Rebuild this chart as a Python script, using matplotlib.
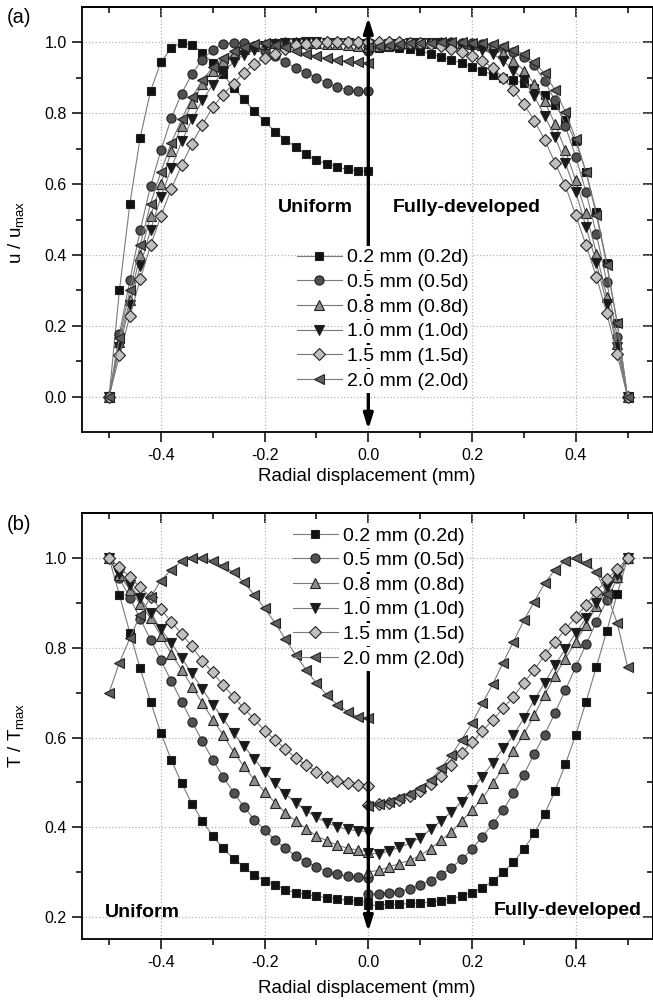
import matplotlib
matplotlib.use("Agg")
import matplotlib.pyplot as plt
from matplotlib.ticker import FixedLocator, NullFormatter

plt.rcParams['font.family'] = ['Liberation Sans', 'DejaVu Sans']
plt.rcParams['mathtext.fontset'] = 'custom'
plt.rcParams['mathtext.rm'] = 'Liberation Sans'
plt.rcParams['mathtext.it'] = 'Liberation Sans:italic'
plt.rcParams['axes.unicode_minus'] = False

# Radial positions (mm): uniform inlet half and fully-developed half
X_LEFT = [-0.50, -0.48, -0.46, -0.44, -0.42, -0.40, -0.38, -0.36, -0.34, -0.32,
          -0.30, -0.28, -0.26, -0.24, -0.22, -0.20, -0.18, -0.16, -0.14, -0.12,
          -0.10, -0.08, -0.06, -0.04, -0.02, 0.00]
X_RIGHT = [0.00, 0.02, 0.04, 0.06, 0.08, 0.10, 0.12, 0.14, 0.16, 0.18,
           0.20, 0.22, 0.24, 0.26, 0.28, 0.30, 0.32, 0.34, 0.36, 0.38,
           0.40, 0.42, 0.44, 0.46, 0.48, 0.50]

LABELS = ['0.2 mm (0.2d)', '0.5 mm (0.5d)', '0.8 mm (0.8d)',
          '1.0 mm (1.0d)', '1.5 mm (1.5d)', '2.0 mm (2.0d)']

# (a) normalised velocity u / u_max
U_L_02 = [0.0, 0.300, 0.543, 0.731, 0.862, 0.944, 0.983, 0.999, 0.993, 0.970, 0.941, 0.909, 0.872,
          0.839, 0.806, 0.777, 0.748, 0.725, 0.704, 0.684, 0.667, 0.657, 0.648, 0.641, 0.637, 0.636]
U_L_05 = [0.0, 0.177, 0.329, 0.469, 0.594, 0.695, 0.786, 0.855, 0.911, 0.951, 0.979, 0.995, 0.998,
          0.997, 0.988, 0.975, 0.960, 0.944, 0.927, 0.913, 0.900, 0.886, 0.873, 0.866, 0.862, 0.861]
U_L_08 = [0.0, 0.155, 0.272, 0.401, 0.509, 0.600, 0.692, 0.765, 0.829, 0.882, 0.920, 0.948, 0.967,
          0.981, 0.990, 0.996, 0.999, 1.000, 1.000, 0.999, 0.998, 0.996, 0.994, 0.992, 0.990, 0.988]
U_L_10 = [0.0, 0.141, 0.258, 0.368, 0.471, 0.563, 0.645, 0.720, 0.782, 0.836, 0.880, 0.916, 0.944,
          0.964, 0.978, 0.988, 0.994, 0.998, 0.999, 1.000, 1.000, 0.999, 0.998, 0.997, 0.996, 0.995]
U_L_15 = [0.0, 0.117, 0.227, 0.331, 0.427, 0.509, 0.587, 0.653, 0.714, 0.767, 0.817, 0.852, 0.883,
          0.914, 0.939, 0.955, 0.968, 0.981, 0.991, 0.996, 0.999, 1.000, 1.000, 1.000, 1.000, 1.000]
U_L_20 = [0.0, 0.165, 0.300, 0.427, 0.545, 0.634, 0.717, 0.782, 0.845, 0.892, 0.930, 0.956, 0.974,
          0.986, 0.995, 0.998, 0.993, 0.985, 0.976, 0.968, 0.961, 0.955, 0.950, 0.946, 0.943, 0.940]

U_R_02 = [0.982, 0.984, 0.985, 0.984, 0.981, 0.976, 0.967, 0.958, 0.950, 0.941, 0.930, 0.920, 0.908,
          0.900, 0.892, 0.885, 0.872, 0.852, 0.823, 0.780, 0.720, 0.634, 0.520, 0.377, 0.208, 0.0]
U_R_05 = [0.975, 0.985, 0.990, 0.993, 0.995, 0.997, 0.998, 0.999, 1.000, 0.999, 0.997, 0.994, 0.989,
          0.983, 0.973, 0.958, 0.935, 0.890, 0.836, 0.763, 0.677, 0.577, 0.458, 0.324, 0.169, 0.0]
U_R_08 = [0.985, 0.990, 0.993, 0.995, 0.997, 0.998, 0.999, 1.000, 0.999, 0.998, 0.996, 0.992, 0.985,
          0.970, 0.948, 0.920, 0.883, 0.833, 0.770, 0.695, 0.610, 0.517, 0.404, 0.282, 0.150, 0.0]
U_R_10 = [0.990, 0.992, 0.994, 0.996, 0.997, 0.998, 0.998, 0.997, 0.995, 0.990, 0.985, 0.978, 0.967,
          0.948, 0.920, 0.893, 0.848, 0.792, 0.733, 0.659, 0.578, 0.479, 0.376, 0.263, 0.141, 0.0]
U_R_15 = [1.000, 1.000, 1.000, 1.000, 0.999, 0.997, 0.994, 0.989, 0.981, 0.972, 0.961, 0.947, 0.928,
          0.899, 0.864, 0.825, 0.779, 0.725, 0.660, 0.596, 0.512, 0.427, 0.338, 0.235, 0.120, 0.0]
U_R_20 = [0.985, 0.990, 0.993, 0.995, 0.997, 0.998, 0.999, 1.000, 1.000, 1.000, 0.999, 0.998, 0.995,
          0.990, 0.979, 0.966, 0.943, 0.912, 0.865, 0.804, 0.727, 0.633, 0.512, 0.371, 0.208, 0.0]

# (b) normalised temperature T / T_max
T_L_02 = [1.000, 0.918, 0.834, 0.754, 0.680, 0.610, 0.550, 0.498, 0.452, 0.414, 0.380, 0.353, 0.330,
          0.312, 0.293, 0.281, 0.271, 0.261, 0.254, 0.250, 0.246, 0.243, 0.240, 0.237, 0.235, 0.233]
T_L_05 = [1.000, 0.955, 0.912, 0.865, 0.818, 0.772, 0.726, 0.680, 0.635, 0.592, 0.550, 0.513, 0.477,
          0.446, 0.417, 0.394, 0.371, 0.353, 0.336, 0.323, 0.312, 0.301, 0.295, 0.291, 0.289, 0.287]
T_L_08 = [1.000, 0.962, 0.930, 0.898, 0.866, 0.827, 0.787, 0.751, 0.713, 0.677, 0.640, 0.606, 0.568,
          0.536, 0.506, 0.479, 0.455, 0.432, 0.414, 0.397, 0.380, 0.370, 0.360, 0.353, 0.349, 0.345]
T_L_10 = [1.000, 0.965, 0.940, 0.911, 0.877, 0.842, 0.810, 0.777, 0.743, 0.708, 0.673, 0.643, 0.609,
          0.581, 0.552, 0.524, 0.498, 0.474, 0.455, 0.437, 0.422, 0.410, 0.401, 0.395, 0.392, 0.390]
T_L_15 = [1.000, 0.980, 0.958, 0.935, 0.913, 0.886, 0.858, 0.831, 0.803, 0.771, 0.745, 0.717, 0.691,
          0.665, 0.641, 0.615, 0.595, 0.574, 0.554, 0.539, 0.524, 0.511, 0.504, 0.498, 0.494, 0.492]
T_L_20 = [0.700, 0.767, 0.821, 0.873, 0.913, 0.950, 0.974, 0.993, 1.000, 1.000, 0.994, 0.983, 0.968,
          0.946, 0.918, 0.888, 0.856, 0.819, 0.784, 0.751, 0.721, 0.695, 0.673, 0.658, 0.646, 0.643]

T_R_02 = [0.226, 0.226, 0.228, 0.228, 0.230, 0.231, 0.233, 0.236, 0.240, 0.247, 0.254, 0.265, 0.280,
          0.299, 0.322, 0.351, 0.386, 0.429, 0.481, 0.540, 0.606, 0.680, 0.758, 0.838, 0.920, 1.000]
T_R_05 = [0.251, 0.251, 0.254, 0.256, 0.262, 0.271, 0.281, 0.293, 0.310, 0.328, 0.351, 0.379, 0.407,
          0.438, 0.476, 0.517, 0.564, 0.606, 0.655, 0.706, 0.757, 0.808, 0.858, 0.907, 0.955, 1.000]
T_R_08 = [0.300, 0.304, 0.311, 0.319, 0.326, 0.337, 0.352, 0.371, 0.389, 0.414, 0.438, 0.464, 0.498,
          0.531, 0.571, 0.607, 0.650, 0.695, 0.738, 0.776, 0.813, 0.852, 0.893, 0.930, 0.958, 1.000]
T_R_10 = [0.343, 0.340, 0.347, 0.355, 0.364, 0.377, 0.395, 0.414, 0.434, 0.457, 0.484, 0.513, 0.544,
          0.576, 0.605, 0.643, 0.683, 0.722, 0.762, 0.797, 0.833, 0.866, 0.900, 0.935, 0.963, 1.000]
T_R_15 = [0.449, 0.451, 0.455, 0.461, 0.469, 0.481, 0.496, 0.515, 0.539, 0.566, 0.589, 0.615, 0.639,
          0.665, 0.691, 0.722, 0.751, 0.783, 0.812, 0.842, 0.868, 0.896, 0.925, 0.953, 0.975, 1.000]
T_R_20 = [0.447, 0.452, 0.457, 0.464, 0.474, 0.487, 0.505, 0.531, 0.561, 0.595, 0.632, 0.676, 0.719,
          0.767, 0.814, 0.861, 0.903, 0.944, 0.974, 0.994, 1.000, 0.990, 0.968, 0.920, 0.855, 0.758]

X_MAJOR = [-0.4, -0.2, 0.0, 0.2, 0.4]
X_MINOR = [-0.5, -0.3, -0.1, 0.1, 0.3, 0.5]

# marker, face colour, size
STYLES = [('s', '#111111', 6.0),
          ('o', '#505050', 6.6),
          ('^', '#8e8e8e', 7.6),
          ('v', '#1a1a1a', 7.6),
          ('D', '#c0c0c0', 6.0),
          ('<', '#5e5e5e', 7.6)]

W, H = 653, 1007
fig = plt.figure(figsize=(W / 100, H / 100), dpi=100)
AX_L, AX_R = 82, 652.5
ax_a = fig.add_axes([AX_L / W, 1 - 432.3 / H, (AX_R - AX_L) / W, (432.3 - 6.7) / H])
ax_b = fig.add_axes([AX_L / W, 1 - 939.3 / H, (AX_R - AX_L) / W, (939.3 - 513.3) / H])


def style_axes(ax, ylim, ymajor, yminor):
    ax.set_xlim(-0.5522, 0.5481)
    ax.set_ylim(*ylim)
    ax.xaxis.set_major_locator(FixedLocator(X_MAJOR))
    ax.xaxis.set_minor_locator(FixedLocator(X_MINOR))
    ax.yaxis.set_major_locator(FixedLocator(ymajor))
    ax.yaxis.set_minor_locator(FixedLocator(yminor))
    ax.tick_params(which='both', direction='out', labelsize=11.5, width=1.1, color='black')
    ax.tick_params(which='major', length=7, pad=4)
    ax.tick_params(which='minor', length=4)
    ax.grid(which='major', linestyle=':', color='#b4b4b4', linewidth=0.9)
    for sp in ax.spines.values():
        sp.set_linewidth(1.3)
    secx = ax.secondary_xaxis('top')
    secx.xaxis.set_major_locator(FixedLocator(X_MAJOR))
    secx.xaxis.set_minor_locator(FixedLocator(X_MINOR))
    secx.xaxis.set_major_formatter(NullFormatter())
    secx.tick_params(which='both', direction='in', width=1.1)
    secx.tick_params(which='major', length=7)
    secx.tick_params(which='minor', length=4)
    secx.spines['top'].set_linewidth(1.3)
    secy = ax.secondary_yaxis('right')
    secy.yaxis.set_major_locator(FixedLocator(ymajor))
    secy.yaxis.set_minor_locator(FixedLocator(yminor))
    secy.yaxis.set_major_formatter(NullFormatter())
    secy.tick_params(which='both', direction='in', width=1.1)
    secy.tick_params(which='major', length=7)
    secy.tick_params(which='minor', length=4)
    secy.spines['right'].set_linewidth(1.3)


def draw_series(ax, lefts, rights):
    handles = []
    for (mk, fc, ms), yl, yr in zip(STYLES, lefts, rights):
        kw = dict(marker=mk, markersize=ms, markerfacecolor=fc, markeredgecolor='#222222',
                  markeredgewidth=0.8, color='#7a7a7a', linewidth=0.8, zorder=3)
        h, = ax.plot(X_LEFT, yl, **kw)
        ax.plot(X_RIGHT, yr, **kw)
        handles.append(h)
    return handles


def draw_arrow(ax, y0, y1):
    ax.annotate('', xy=(0.0, y1), xytext=(0.0, y0),
                arrowprops=dict(arrowstyle='<|-|>,head_length=0.9,head_width=0.28',
                                lw=2.4, color='black', shrinkA=0, shrinkB=0),
                zorder=3.5)


def add_legend(ax, handles, anchor):
    leg = ax.legend(handles, LABELS, loc='upper left', bbox_to_anchor=anchor,
                    frameon=False, fontsize=14, handlelength=2.3, handletextpad=0.25,
                    labelspacing=0.36, borderpad=0, borderaxespad=0, numpoints=1)
    leg.set_zorder(5)
    for t in leg.get_texts():
        t.set_bbox(dict(boxstyle='square,pad=0.16', facecolor='white', edgecolor='none'))
    return leg


# ---- (a) velocity ----
style_axes(ax_a, (-0.1, 1.1), [0.0, 0.2, 0.4, 0.6, 0.8, 1.0], [0.1, 0.3, 0.5, 0.7, 0.9])
h_a = draw_series(ax_a, [U_L_02, U_L_05, U_L_08, U_L_10, U_L_15, U_L_20],
                  [U_R_02, U_R_05, U_R_08, U_R_10, U_R_15, U_R_20])
draw_arrow(ax_a, -0.092, 1.07)
add_legend(ax_a, h_a, (0.377, 0.431))
ax_a.text(-0.174, 0.535, 'Uniform', fontsize=14, fontweight='bold', ha='left', va='center', zorder=6)
ax_a.text(0.0477, 0.535, 'Fully-developed', fontsize=14, fontweight='bold', ha='left', va='center', zorder=6)
ax_a.set_xlabel('Radial displacement (mm)', fontsize=13.5)
ax_a.xaxis.set_label_coords(0.5, -0.084)
ax_a.set_ylabel(r'u / u$_{\mathrm{max}}$', fontsize=13.5)
ax_a.yaxis.set_label_coords(-0.098, 0.47)

# ---- (b) temperature ----
style_axes(ax_b, (0.15, 1.1), [0.2, 0.4, 0.6, 0.8, 1.0], [0.3, 0.5, 0.7, 0.9])
h_b = draw_series(ax_b, [T_L_02, T_L_05, T_L_08, T_L_10, T_L_15, T_L_20],
                  [T_R_02, T_R_05, T_R_08, T_R_10, T_R_15, T_R_20])
draw_arrow(ax_b, 0.167, 1.07)
add_legend(ax_b, h_b, (0.370, 0.968))
ax_b.text(-0.509, 0.209, 'Uniform', fontsize=14, fontweight='bold', ha='left', va='center', zorder=6)
ax_b.text(0.527, 0.215, 'Fully-developed', fontsize=14, fontweight='bold', ha='right', va='center', zorder=6)
ax_b.set_xlabel('Radial displacement (mm)', fontsize=13.5)
ax_b.xaxis.set_label_coords(0.5, -0.096)
ax_b.set_ylabel(r'T / T$_{\mathrm{max}}$', fontsize=13.5)
ax_b.yaxis.set_label_coords(-0.098, 0.48)

fig.text(7 / W, 1 - 17.5 / H, '(a)', fontsize=14.5, ha='left', va='center')
fig.text(7 / W, 1 - 524 / H, '(b)', fontsize=14.5, ha='left', va='center')

fig.savefig('out.png', dpi=100)
